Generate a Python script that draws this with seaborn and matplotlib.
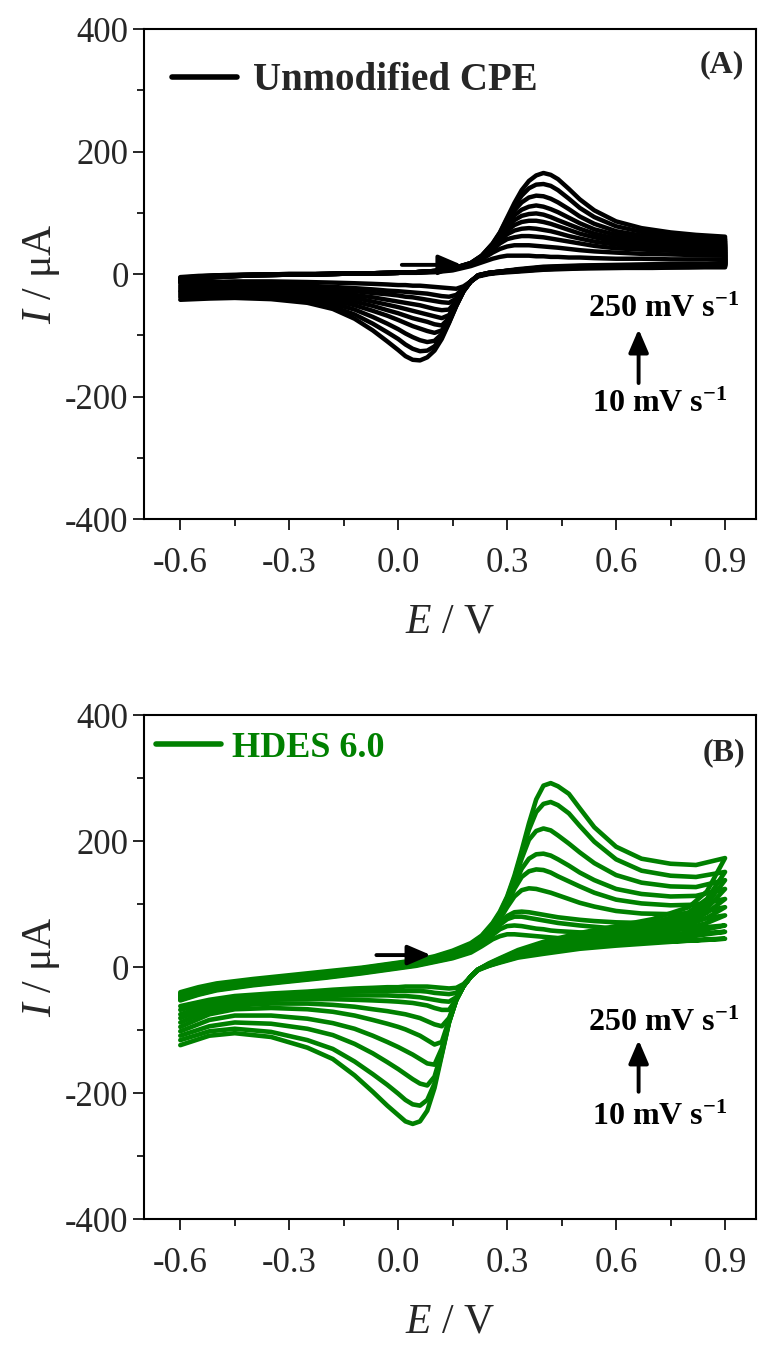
import pandas as pd
import matplotlib
matplotlib.use('Agg')
import matplotlib.pyplot as plt
from matplotlib.lines import Line2D
from matplotlib.ticker import MultipleLocator, FuncFormatter
import seaborn as sns

# potential grid (V) for the anodic sweep and the cathodic sweep
E_FWD = [-0.6, -0.55, -0.5, -0.4, -0.3, -0.2, -0.1, 0.0, 0.05, 0.1,
         0.15, 0.2, 0.23, 0.26, 0.28, 0.30, 0.32, 0.34, 0.36, 0.38,
         0.40, 0.42, 0.44, 0.47, 0.50, 0.54, 0.6, 0.67, 0.75, 0.82, 0.9]
E_REV = [0.9, 0.85, 0.8, 0.7, 0.6, 0.5, 0.4, 0.33, 0.28, 0.25,
         0.22, 0.2, 0.18, 0.16, 0.14, 0.12, 0.10, 0.08, 0.06, 0.04,
         0.02, 0.0, -0.03, -0.07, -0.12, -0.18, -0.25, -0.35, -0.45, -0.52, -0.6]

# curves from 250 mV/s (first) down to 10 mV/s (last)
CURVE_IDS = [1, 2, 3, 4, 5, 6, 7, 8, 9, 10]

# (A) unmodified CPE, current in uA
A_FWD = [
    [-14, -8, -5, -2, -1, 0, 1, 2, 3, 5, 9, 18, 30, 50, 68, 92, 116, 137, 152, 161, 165, 162, 155, 139, 122, 104, 86, 75, 68, 64, 61],
    [-13, -8, -5, -2, -1, 0, 1, 2, 3, 5, 9, 18, 30, 49, 67, 90, 111, 128, 140, 146, 147, 144, 137, 123, 108, 93, 78, 69, 63, 59, 57],
    [-12, -7, -5, -2, -1, 0, 1, 2, 3, 5, 9, 18, 29, 48, 65, 86, 104, 117, 125, 128, 127, 123, 117, 106, 94, 82, 70, 63, 58, 55, 53],
    [-11, -7, -4, -2, -1, 0, 1, 2, 3, 5, 9, 17, 29, 47, 63, 81, 96, 105, 110, 112, 110, 106, 101, 92, 83, 73, 64, 58, 54, 51, 49],
    [-10, -6, -4, -2, -1, 0, 1, 2, 3, 5, 9, 17, 28, 46, 61, 77, 88, 95, 98, 99, 97, 93, 88, 81, 74, 66, 58, 53, 50, 48, 46],
    [-9, -6, -4, -2, -1, 0, 1, 2, 3, 4, 8, 17, 28, 45, 58, 71, 80, 85, 87, 87, 85, 82, 78, 72, 66, 60, 53, 49, 46, 44, 43],
    [-8, -5, -3, -1, -1, 0, 1, 2, 3, 4, 8, 16, 27, 43, 55, 65, 71, 74, 75, 74, 72, 70, 67, 62, 58, 53, 48, 45, 42, 40, 39],
    [-7, -4, -3, -1, 0, 0, 1, 2, 3, 4, 8, 16, 26, 40, 50, 57, 60, 62, 62, 61, 60, 58, 56, 53, 50, 46, 42, 40, 38, 36, 35],
    [-6, -4, -2, -1, 0, 0, 1, 2, 3, 4, 7, 15, 24, 35, 41, 45, 47, 47, 47, 46, 45, 44, 43, 41, 39, 37, 35, 33, 32, 31, 30],
    [-5, -3, -2, -1, 0, 0, 1, 2, 2, 3, 6, 13, 19, 25, 28, 30, 30, 30, 30, 29, 29, 28, 28, 27, 27, 26, 25, 25, 24, 24, 24],
]
A_REV = [
    [18, 17, 17, 16, 15, 14, 12, 8, 4, 2, -2, -12, -28, -52, -80, -106, -125, -136, -141, -140, -134, -124, -110, -92, -73, -57, -47, -41, -39, -40, -42],
    [17, 16, 16, 15, 14, 13, 11, 7, 4, 2, -2, -12, -28, -52, -79, -103, -118, -125, -126, -122, -115, -106, -95, -81, -66, -53, -44, -38, -36, -37, -38],
    [16, 16, 15, 14, 13, 12, 11, 7, 4, 2, -2, -12, -28, -51, -77, -98, -109, -111, -108, -103, -97, -90, -81, -70, -58, -48, -41, -36, -34, -34, -35],
    [16, 15, 15, 14, 13, 12, 10, 7, 4, 2, -2, -12, -27, -50, -75, -92, -96, -93, -89, -85, -80, -75, -68, -60, -51, -43, -37, -33, -31, -31, -32],
    [15, 14, 14, 13, 12, 11, 10, 6, 3, 1, -3, -12, -27, -49, -72, -84, -82, -78, -75, -72, -68, -64, -59, -52, -45, -39, -34, -30, -28, -28, -29],
    [14, 14, 13, 12, 12, 11, 9, 6, 3, 1, -3, -12, -26, -47, -67, -72, -69, -66, -63, -60, -57, -54, -50, -45, -39, -34, -30, -27, -25, -26, -27],
    [14, 13, 13, 12, 11, 10, 9, 6, 3, 1, -3, -12, -25, -44, -58, -59, -57, -54, -51, -49, -47, -45, -42, -38, -34, -30, -27, -24, -22, -23, -24],
    [13, 13, 12, 12, 11, 10, 8, 5, 3, 1, -3, -12, -24, -40, -47, -46, -44, -42, -40, -38, -37, -35, -33, -31, -28, -25, -22, -20, -19, -20, -21],
    [12, 12, 11, 11, 10, 10, 8, 5, 3, 1, -3, -12, -23, -34, -37, -36, -34, -32, -31, -30, -29, -28, -27, -25, -23, -21, -19, -17, -16, -17, -18],
    [11, 11, 11, 10, 10, 9, 7, 4, 2, 0, -4, -12, -20, -24, -23, -22, -21, -20, -19, -19, -18, -18, -17, -16, -15, -14, -13, -12, -12, -13, -14],
]

# (B) HDES 6.0, current in uA
B_FWD = [
    [-40, -32, -26, -19, -13, -7, -1, 7, 11, 17, 26, 38, 50, 70, 88, 112, 145, 185, 228, 266, 288, 292, 287, 275, 252, 222, 191, 172, 164, 162, 173],
    [-42, -34, -28, -21, -15, -9, -2, 6, 10, 16, 24, 36, 49, 68, 86, 110, 142, 180, 218, 246, 259, 262, 257, 244, 224, 199, 171, 153, 145, 143, 151],
    [-44, -36, -30, -22, -16, -10, -3, 5, 9, 15, 22, 34, 47, 66, 84, 107, 137, 172, 202, 216, 220, 217, 209, 196, 182, 165, 146, 134, 128, 127, 138],
    [-46, -38, -31, -23, -17, -11, -4, 4, 8, 14, 20, 32, 45, 64, 81, 103, 130, 156, 172, 179, 180, 177, 171, 161, 150, 138, 124, 116, 112, 113, 124],
    [-47, -39, -32, -24, -18, -12, -5, 3, 7, 13, 19, 31, 44, 62, 79, 100, 124, 143, 152, 155, 154, 150, 144, 136, 128, 118, 107, 101, 98, 99, 108],
    [-48, -40, -33, -25, -19, -13, -6, 2, 6, 12, 18, 30, 43, 60, 76, 95, 112, 122, 125, 124, 121, 118, 114, 108, 102, 96, 89, 85, 84, 86, 95],
    [-50, -41, -34, -26, -20, -14, -7, 1, 5, 11, 17, 28, 41, 57, 70, 81, 87, 88, 87, 85, 83, 81, 79, 77, 75, 73, 71, 70, 71, 75, 82],
    [-51, -42, -35, -27, -21, -15, -8, 0, 4, 10, 16, 27, 40, 55, 67, 76, 80, 80, 78, 76, 74, 72, 70, 68, 66, 64, 61, 60, 60, 62, 66],
    [-52, -43, -36, -28, -22, -16, -9, -1, 3, 9, 15, 25, 37, 51, 60, 65, 66, 65, 63, 61, 60, 58, 57, 56, 55, 54, 52, 51, 51, 53, 56],
    [-53, -44, -37, -29, -23, -17, -10, -2, 2, 8, 14, 23, 33, 44, 49, 52, 52, 51, 50, 49, 48, 47, 46, 45, 44, 43, 42, 41, 41, 42, 45],
]
B_REV = [
    [173, 120, 95, 76, 65, 54, 40, 27, 14, 6, -4, -15, -30, -52, -88, -140, -192, -228, -245, -249, -245, -235, -220, -198, -172, -146, -128, -111, -105, -109, -124],
    [151, 108, 87, 70, 60, 50, 37, 25, 13, 5, -4, -15, -30, -52, -88, -138, -185, -211, -220, -218, -211, -201, -187, -170, -150, -130, -116, -103, -98, -102, -116],
    [138, 100, 82, 66, 56, 47, 35, 24, 12, 5, -4, -15, -30, -52, -87, -135, -174, -188, -185, -178, -170, -162, -151, -137, -122, -108, -98, -90, -88, -94, -109],
    [124, 93, 77, 62, 53, 44, 33, 22, 11, 4, -4, -15, -30, -52, -86, -129, -155, -153, -146, -139, -133, -127, -119, -109, -98, -89, -82, -77, -77, -84, -102],
    [108, 86, 72, 59, 50, 42, 31, 21, 10, 4, -4, -15, -30, -52, -84, -119, -123, -116, -109, -104, -99, -95, -90, -84, -77, -71, -67, -65, -67, -75, -95],
    [95, 78, 67, 55, 47, 39, 29, 20, 10, 4, -4, -15, -30, -52, -81, -94, -91, -86, -81, -78, -75, -73, -70, -67, -63, -60, -58, -58, -61, -69, -88],
    [82, 70, 62, 51, 44, 37, 27, 19, 9, 3, -4, -15, -30, -51, -68, -68, -65, -61, -59, -57, -56, -55, -54, -53, -52, -51, -51, -52, -56, -64, -81],
    [66, 60, 55, 47, 41, 34, 25, 17, 8, 3, -4, -15, -30, -48, -55, -54, -52, -50, -48, -47, -46, -46, -45, -45, -45, -45, -46, -48, -52, -60, -75],
    [56, 52, 48, 42, 37, 31, 23, 16, 8, 2, -4, -15, -29, -41, -43, -42, -41, -39, -38, -38, -38, -38, -38, -38, -39, -40, -42, -44, -49, -56, -68],
    [45, 44, 42, 38, 34, 29, 21, 15, 7, 2, -5, -15, -27, -33, -34, -33, -32, -31, -31, -31, -31, -32, -32, -33, -34, -36, -39, -42, -46, -52, -62],
]

GREEN = '#008000'


def cv_frame(fwd, rev):
    rows = []
    for cid, f, r in zip(CURVE_IDS, fwd, rev):
        assert len(f) == len(E_FWD) and len(r) == len(E_REV), cid
        for e, i in zip(E_FWD + E_REV, f + r):
            rows.append({'curve': cid, 'E': e, 'I': i})
    return pd.DataFrame(rows)


def style_axes(ax):
    ax.set_xlim(-0.70, 0.985)
    ax.set_ylim(-400, 400)
    ax.xaxis.set_major_locator(MultipleLocator(0.3))
    ax.xaxis.set_minor_locator(MultipleLocator(0.15))
    ax.yaxis.set_major_locator(MultipleLocator(200))
    ax.yaxis.set_minor_locator(MultipleLocator(100))
    ax.xaxis.set_major_formatter(FuncFormatter(lambda v, p: f'{round(v, 1) + 0:.1f}'))
    ax.yaxis.set_major_formatter(FuncFormatter(lambda v, p: f'{int(round(v))}'))
    ax.tick_params(which='both', direction='out', width=1.4, top=False, right=False,
                   labelsize=25)
    ax.tick_params(axis='x', pad=12)
    ax.tick_params(axis='y', pad=3)
    ax.tick_params(which='major', length=8)
    ax.tick_params(which='minor', length=5)
    for sp in ax.spines.values():
        sp.set_linewidth(1.5)
        sp.set_color('black')
    ax.set_xlabel(r'$E$ / V', fontsize=30, labelpad=17)
    ax.set_ylabel(r'$I$ / μA', fontsize=30, labelpad=2)


def add_notes(ax, y_hi, y_lo, y_tail, y_head, sweep_x, sweep_y):
    bold = dict(fontsize=23, fontweight='bold', ha='center', va='center', color='black')
    ax.text(0.73, y_hi, r'250 mV s$^{\mathbf{-1}}$', **bold)
    ax.text(0.72, y_lo, r'10 mV s$^{\mathbf{-1}}$', **bold)
    arrow = dict(arrowstyle='-|>,head_length=0.7,head_width=0.3', lw=2.8, color='black',
                 shrinkA=0, shrinkB=0, mutation_scale=20)
    ax.annotate('', xy=(0.662, y_head), xytext=(0.662, y_tail), arrowprops=arrow)
    ax.annotate('', xy=(sweep_x[1], sweep_y), xytext=(sweep_x[0], sweep_y), arrowprops=arrow)


sns.set_style('ticks')
plt.rcParams['font.family'] = ['Liberation Serif', 'DejaVu Serif']
plt.rcParams['mathtext.fontset'] = 'custom'
plt.rcParams['mathtext.rm'] = 'Liberation Serif'
plt.rcParams['mathtext.it'] = 'Liberation Serif:italic'
plt.rcParams['mathtext.bf'] = 'Liberation Serif:bold'
plt.rcParams['axes.unicode_minus'] = False
plt.rcParams['lines.solid_joinstyle'] = 'round'

fig = plt.figure(figsize=(7.63, 13.51), dpi=100)
ax_a = fig.add_axes([0.1887, 0.6158, 0.802, 0.3627])
ax_b = fig.add_axes([0.1887, 0.0977, 0.802, 0.3730])

# panel A
df_a = cv_frame(A_FWD, A_REV)
sns.lineplot(data=df_a, x='E', y='I', units='curve', estimator=None, sort=False,
             color='black', lw=3.2, legend=False, ax=ax_a)
style_axes(ax_a)
ax_a.legend(handles=[Line2D([], [], color='black', lw=4)], labels=['Unmodified CPE'],
            loc='center left', bbox_to_anchor=(0.046, 0.894), frameon=False,
            prop={'family': 'Liberation Serif', 'weight': 'bold', 'size': 28},
            handlelength=1.67, handletextpad=0.4, borderpad=0, borderaxespad=0)
ax_a.text(0.98, 0.927, '(A)', transform=ax_a.transAxes, ha='right', va='center',
          fontsize=23, fontweight='bold')
add_notes(ax_a, -58, -212, -178, -90, (0.01, 0.175), 15)

# panel B
df_b = cv_frame(B_FWD, B_REV)
sns.lineplot(data=df_b, x='E', y='I', units='curve', estimator=None, sort=False,
             color=GREEN, lw=3.3, legend=False, ax=ax_b)
style_axes(ax_b)
ax_b.legend(handles=[Line2D([], [], color=GREEN, lw=4)], labels=['HDES 6.0'],
            loc='center left', bbox_to_anchor=(0.02, 0.934), frameon=False,
            prop={'family': 'Liberation Serif', 'weight': 'bold', 'size': 26},
            handlelength=1.8, handletextpad=0.3, borderpad=0, borderaxespad=0,
            labelcolor=GREEN)
ax_b.text(0.982, 0.925, '(B)', transform=ax_b.transAxes, ha='right', va='center',
          fontsize=23, fontweight='bold')
add_notes(ax_b, -90, -238, -198, -116, (-0.06, 0.09), 19)

fig.savefig('out.png', dpi=100, facecolor='white')
